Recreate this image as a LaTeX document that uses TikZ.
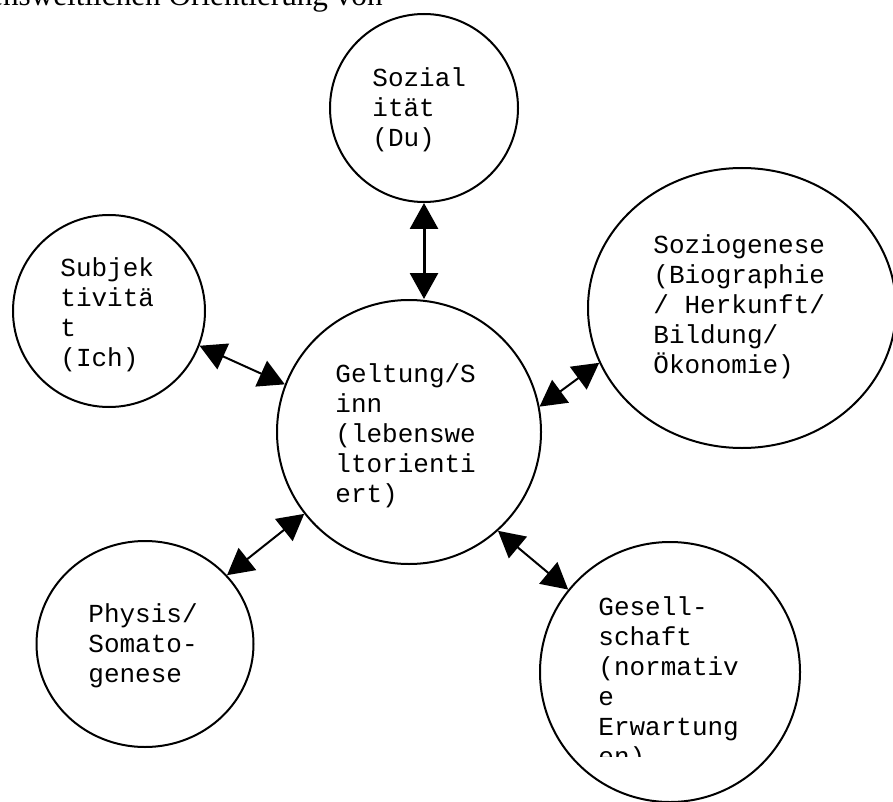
\documentclass[tikz,border=0pt]{standalone}
\usepackage{fontspec}
\setmainfont{Liberation Serif}
\setmonofont{Liberation Mono}
\usepackage{tikz}
\usetikzlibrary{arrows.meta,shapes.geometric}

\begin{document}
\begin{tikzpicture}[x=0.5pt,y=-0.5pt,
  kreis/.style={draw,circle,line width=1pt,inner sep=0pt,minimum size=#1},
  oval/.style 2 args={draw,ellipse,line width=1pt,inner sep=0pt,minimum width=#1,minimum height=#2},
  txt/.style={anchor=base west,align=left,inner sep=0pt,font=\ttfamily\fontsize{13}{15}\selectfont},
  dbl/.style={{Triangle[length=13pt,width=14pt]}-{Triangle[length=13pt,width=14pt]},line width=1pt}]
\clip (0,0) rectangle (893,802);
\node[anchor=base east,inner sep=0pt,font=\rmfamily\fontsize{15.6}{18}\selectfont] (kopf) at (383,6) {lebensweltlichen Orientierung von};
\node[kreis=94pt] (sozial) at (424,108) {};
\node[kreis=96pt] (subj) at (109,311) {};
\node[kreis=132pt] (geltung) at (409,432) {};
\node[oval={154pt}{140pt}] (sozio) at (742,308) {};
\node[oval={108.5pt}{103pt}] (physis) at (145,644) {};
\node[kreis=130pt] (gesell) at (670,672) {};
\node[txt] (sozialtxt) at (372,147) {Sozial\\ität\\(Du)};
\node[txt] (subjtxt) at (60,366) {Subjek\\tivitä\\t\\(Ich)};
\node[txt] (geltungtxt) at (335,502) {Geltung/S\\inn\\(lebenswe\\ltorienti\\ert)};
\node[txt] (soziotxt) at (653,373) {Soziogenese\\(Biographie\\/ Herkunft/\\Bildung/\\Ökonomie)};
\node[txt] (physistxt) at (88,682) {Physis/\\Somato-\\genese};
\begin{scope}
  \clip (560,580) rectangle (800,756);
  \node[txt] (gesetxt) at (598,765) {Gesell-\\schaft\\(normativ\\e\\Erwartung\\en)};
\end{scope}
\draw[dbl,line width=1.5pt] (sozial.south) -- (sozial.south |- geltung.north);
\draw[dbl] (subj.-21) -- (geltung.159);
\draw[dbl] (geltung.11) -- (sozio.201);
\draw[dbl] (physis.40) -- (geltung.218);
\draw[dbl] (geltung.-48) -- (gesell.141);
\end{tikzpicture}
\end{document}
